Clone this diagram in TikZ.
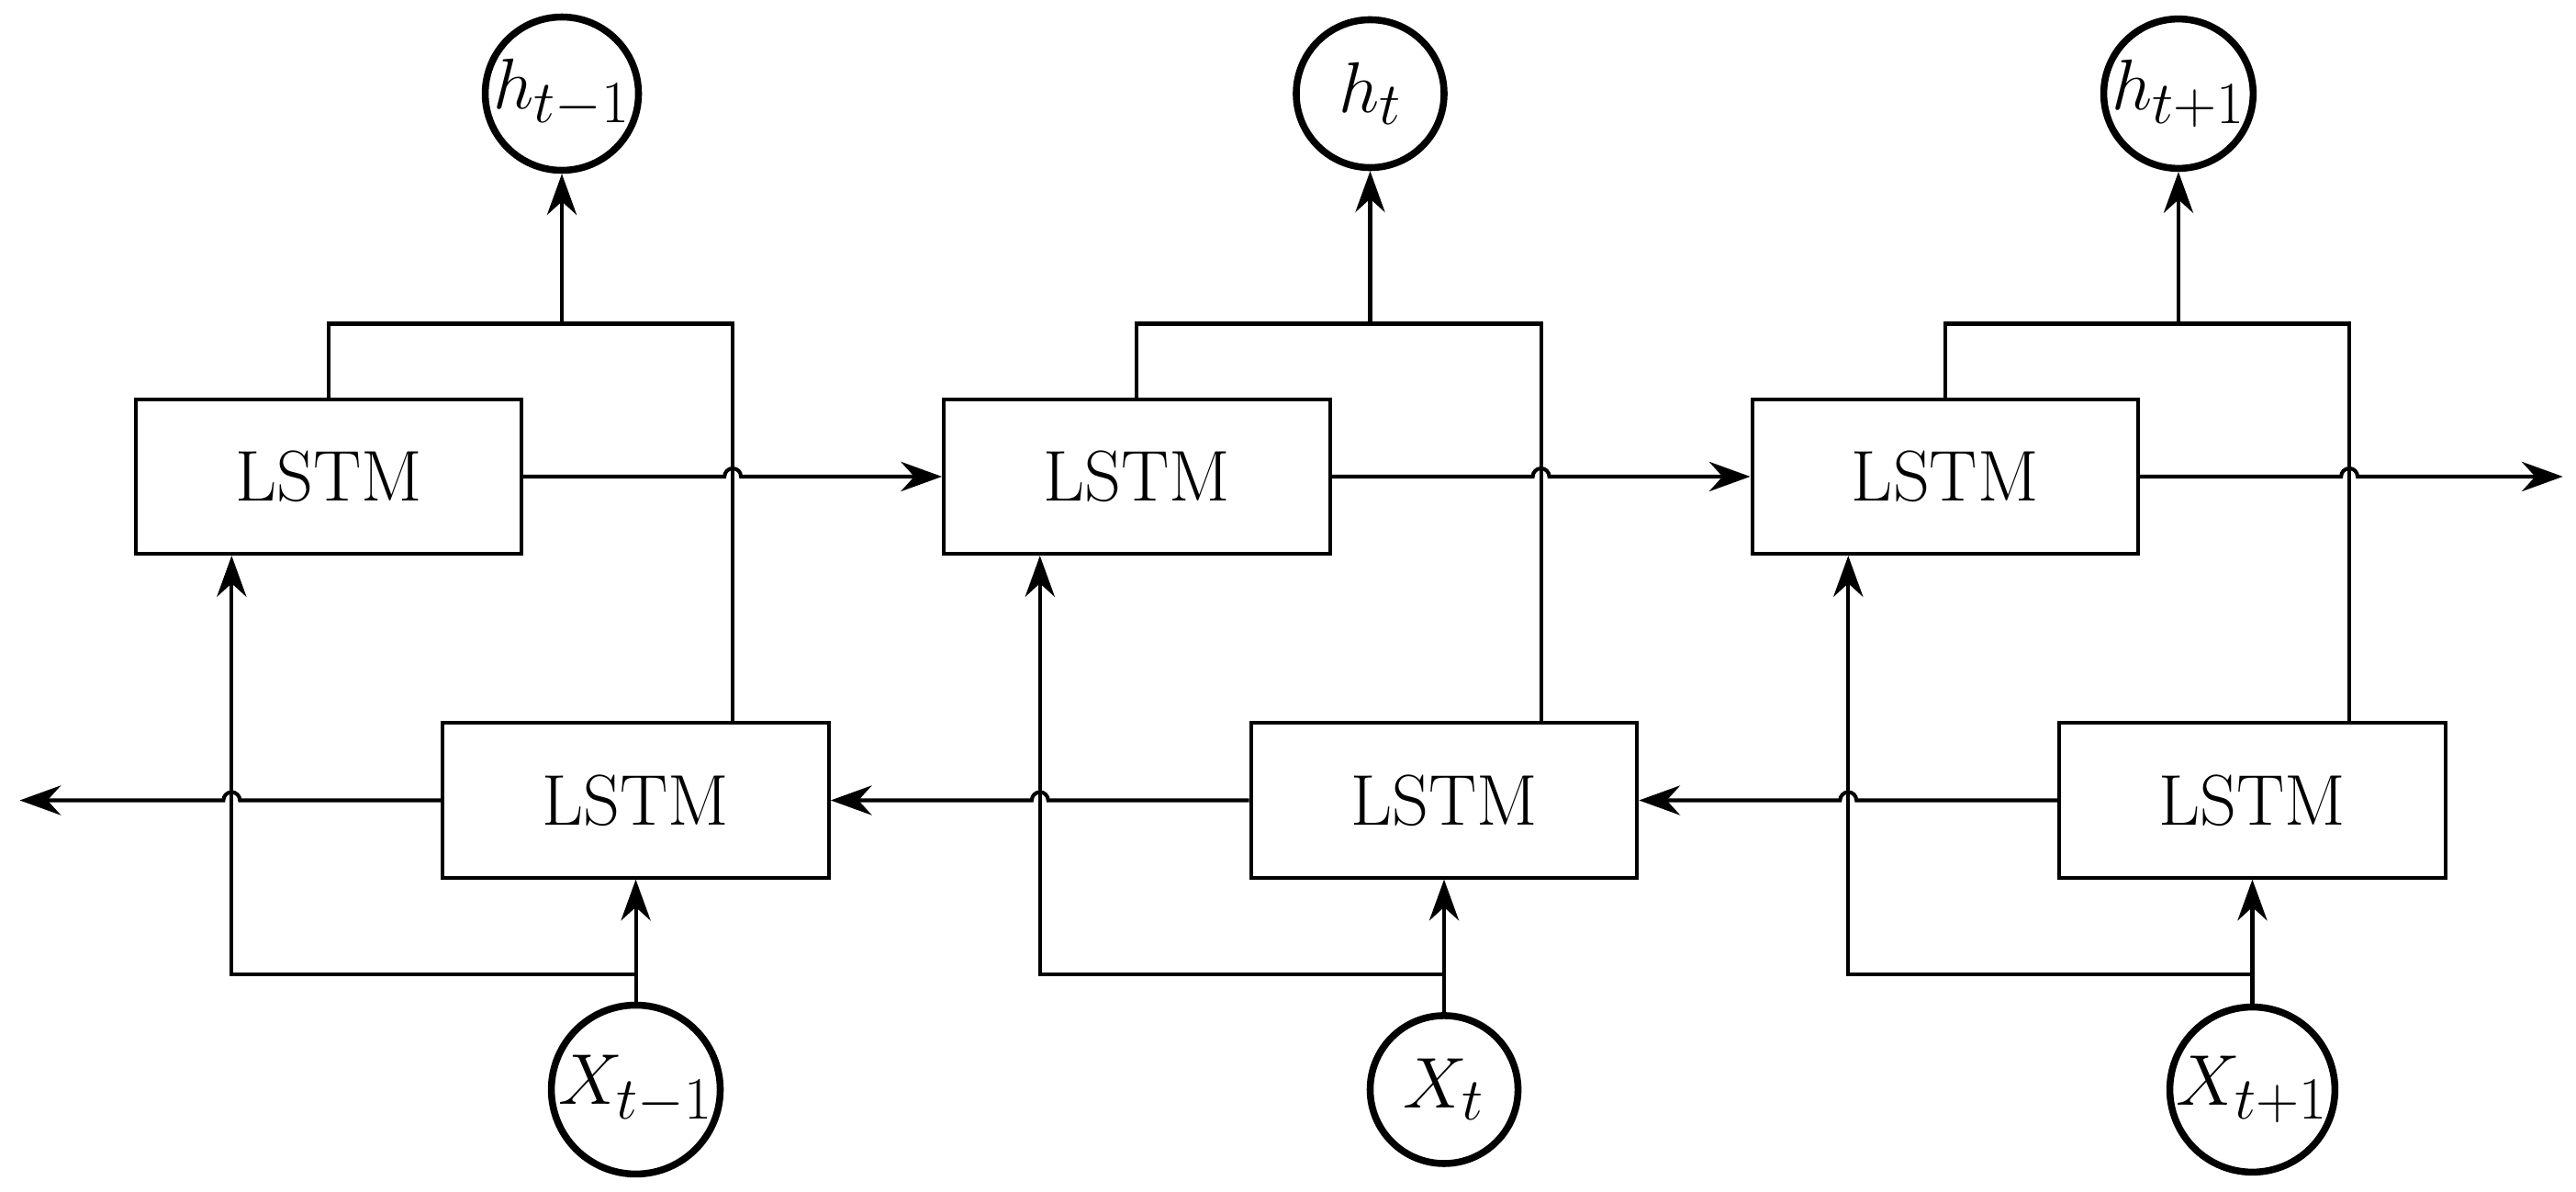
\documentclass[tikz,border=0pt]{standalone}
\usetikzlibrary{arrows.meta,calc}
\tikzset{
  cell/.style={draw,line width=1.3pt,minimum width=4.7cm,minimum height=1.88cm,font=\Huge},
  io/.style={draw,circle,line width=2.4pt,minimum size=1.8cm,inner sep=0pt,font=\Huge},
  wire/.style={line width=1.3pt},
  flow/.style={line width=1.3pt,-{Stealth[length=5mm,width=3.6mm]}}
}
\begin{document}
\begin{tikzpicture}
  \useasboundingbox (0,0) rectangle (31.36,-14.5);
  % three time steps
  \foreach \i/\lh/\lx in {0/{h_{t-1}}/{X_{t-1}},1/{h_t}/{X_t},2/{h_{t+1}}/{X_{t+1}}}{
    \pgfmathsetmacro{\off}{9.84*\i}
    \node[cell] (f\i) at (4.0+\off,-5.8) {LSTM};
    \node[cell] (b\i) at (7.74+\off,-9.74) {LSTM};
    \node[io]   (h\i) at (6.84+\off,-1.14) {$\lh$};
    \node[io]   (x\i) at (7.74+\off,-13.26) {$\lx$};
    \coordinate (m\i) at (8.92+\off,-3.94);
    \coordinate (s\i) at (2.82+\off,-11.86);
    % merge to output
    \draw[wire] (f\i.north) |- (m\i) -- (m\i |- b\i.north);
    \draw[flow] (h\i |- m\i) -- (h\i.south);
    % input
    \draw[flow] (x\i.north) -- (b\i.south);
    \draw[flow] (x\i |- s\i) -- (s\i) -- (s\i |- f\i.south);
  }
  \coordinate (fend) at (31.2,-5.8);
  \coordinate (bend) at (0.24,-9.74);
  % forward direction
  \foreach \i/\j in {0/f1.west,1/f2.west,2/fend}{
    \draw[flow] (f\i.east) -- ([xshift=-1mm]m\i |- f\i.east) arc (180:0:1mm) -- (\j);
  }
  % backward direction
  \foreach \i/\j in {0/bend,1/b0.east,2/b1.east}{
    \draw[flow] (b\i.west) -- ([xshift=1mm]s\i |- b\i.west) arc (0:180:1mm) -- (\j);
  }
\end{tikzpicture}
\end{document}
